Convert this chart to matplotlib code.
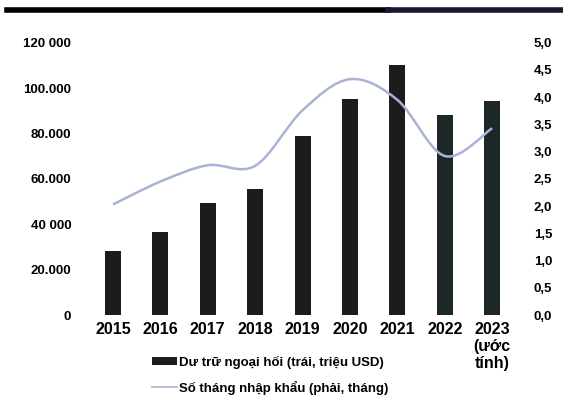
import matplotlib
matplotlib.use("Agg")
import matplotlib.pyplot as plt
import numpy as np
from matplotlib.path import Path
from matplotlib.patches import PathPatch, Patch
from matplotlib.lines import Line2D

plt.rcParams["font.family"] = ["Liberation Sans", "DejaVu Sans"]

years = ["2015", "2016", "2017", "2018", "2019", "2020", "2021", "2022", "2023\n(ước\ntính)"]
reserves = [28300, 36500, 49300, 55600, 78700, 95300, 110300, 88200, 94300]
import_months = [2.03, 2.45, 2.75, 2.74, 3.76, 4.33, 3.95, 2.92, 3.43]

left_ticks = [0, 20000, 40000, 60000, 80000, 100000, 120000]
left_labels = ["0", "20.000", "40 000", "60.000", "80.000", "100.000", "120 000"]
right_ticks = [0.0, 0.5, 1.0, 1.5, 2.0, 2.5, 3.0, 3.5, 4.0, 4.5, 5.0]

bar_colors = ["#1c1c1c"] * 7 + ["#1d2727", "#1d2727"]
line_color = "#a9b3d3"


def smooth_path(xs, ys, tension=1 / 6):
    # cubic bezier through the points, like a spreadsheet "smoothed line"
    pts = np.column_stack([xs, ys]).astype(float)
    verts = [pts[0]]
    codes = [Path.MOVETO]
    n = len(pts)
    for i in range(n - 1):
        p0 = pts[i - 1] if i > 0 else pts[i]
        p1 = pts[i]
        p2 = pts[i + 1]
        p3 = pts[i + 2] if i + 2 < n else pts[i + 1]
        c1 = p1 + (p2 - p0) * tension
        c2 = p2 - (p3 - p1) * tension
        verts += [c1, c2, p2]
        codes += [Path.CURVE4] * 3
    return Path(verts, codes)


fig = plt.figure(figsize=(5.63, 4.0), dpi=100)
ax = fig.add_axes([0.1586, 0.2125, 0.7577, 0.6807])
ax2 = ax.twinx()

x = np.arange(len(years))
ax.bar(x, reserves, width=0.34, color=bar_colors, zorder=2)
ax.set_xlim(-0.5, len(years) - 0.5)
ax.set_ylim(0, 120000)
ax.set_yticks(left_ticks)
ax.set_yticklabels(left_labels)
ax.set_xticks(x)
ax.set_xticklabels(years, va="top", linespacing=1.15)

ax2.set_ylim(0, 5.0)
ax2.set_yticks(right_ticks)
ax2.set_yticklabels([f"{v:.1f}".replace(".", ",") for v in right_ticks])
ax2.add_patch(PathPatch(smooth_path(x, import_months), fill=False,
                        edgecolor=line_color, lw=1.8, zorder=3))

for a in (ax, ax2):
    for s in a.spines.values():
        s.set_visible(False)
    a.tick_params(length=0, labelsize=9.5)
    for lab in a.get_yticklabels() + a.get_xticklabels():
        lab.set_fontweight("bold")
ax.tick_params(axis="y", pad=13)
ax2.tick_params(axis="y", pad=13)
ax.tick_params(axis="x", pad=5, labelsize=11.5)

# dark rule along the top edge
fig.add_artist(Line2D([0.012, 0.69], [0.976, 0.976], color="black", lw=4,
                      transform=fig.transFigure))
fig.add_artist(Line2D([0.69, 1.0], [0.976, 0.976], color="#1b1630", lw=4,
                      transform=fig.transFigure))

handles = [Patch(facecolor="#1c1c1c", edgecolor="none"),
           Line2D([], [], color=line_color, lw=1.2)]
labels = ["Dư trữ ngoại hối (trái, triệu USD)", "Số tháng nhập khẩu (phải, tháng)"]
fig.legend(handles, labels, loc="upper center", bbox_to_anchor=(0.48, 0.14),
           ncol=1, frameon=False, handlelength=1.9, handleheight=0.6,
           handletextpad=0.15, labelspacing=0.9,
           prop={"weight": "bold", "size": 9.5})

fig.savefig("out.png", dpi=100)
